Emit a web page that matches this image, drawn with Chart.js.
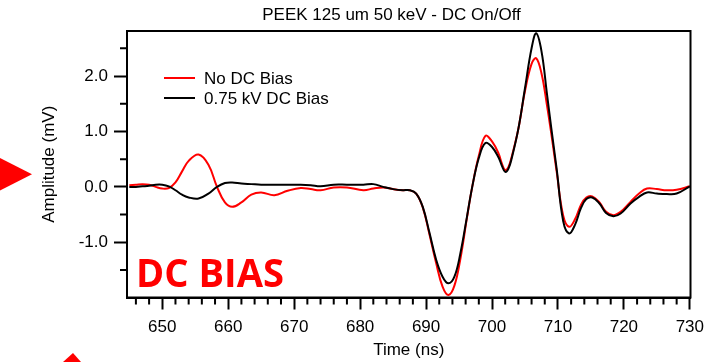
<!DOCTYPE html>
<html>
<head>
<meta charset="utf-8">
<script src="https://cdn.jsdelivr.net/npm/chart.js@4.4.1/dist/chart.umd.min.js"></script>
<style>
  html, body { margin: 0; padding: 0; background: #fff; }
  #wrap { position: relative; width: 725px; height: 362px; }
</style>
</head>
<body>
<div id="wrap"><canvas id="pulse"></canvas></div>
<script>
// time base (ns) and the two averaged waveforms (mV)
var times = [645, 646, 647, 648, 649, 650, 651, 652, 653, 654, 655.5, 657, 658.3, 659.5, 660.6, 662, 663.5, 665, 667, 669,
  671, 672.5, 674, 676, 678, 680.5, 682, 683.5, 685, 686.5, 687.5, 688.5, 689.5, 690.5, 691.5, 692.5, 693.4, 694.3, 695.2, 696.2,
  697, 698, 699, 700, 701, 701.5, 702, 702.5, 703, 704, 705, 706, 706.7, 707.5, 708.3, 709, 709.8, 710.8, 711.7, 712.6, 713.5, 714.3,
  715.2, 716.3, 717.3, 718.4, 719.5, 721, 722.3, 723.5, 725, 726.5, 728, 730];

var noBias = [0.03, 0.04, 0.05, 0.04, 0.0, -0.03, -0.02, 0.08, 0.28, 0.47, 0.585, 0.40, 0.0, -0.28, -0.36, -0.28, -0.14, -0.10, -0.15, -0.07,
  -0.02, -0.04, -0.06, -0.01, -0.01, -0.06, -0.03, -0.01, -0.04, -0.06, -0.06, -0.12, -0.37, -0.85, -1.36, -1.80, -1.95, -1.78, -1.30, -0.56,
  0.0, 0.56, 0.92, 0.82, 0.60, 0.42, 0.30, 0.36, 0.55, 1.05, 1.73, 2.22, 2.32, 2.05, 1.50, 0.95, 0.28, -0.52, -0.72, -0.58, -0.32, -0.19,
  -0.17, -0.28, -0.45, -0.51, -0.45, -0.27, -0.12, -0.03, -0.04, -0.06, -0.05, 0.01];

var dcBias = [0.0, 0.0, 0.01, 0.02, 0.04, 0.04, 0.01, -0.06, -0.14, -0.19, -0.21, -0.12, 0.0, 0.07, 0.08, 0.06, 0.05, 0.04, 0.04, 0.04,
  0.04, 0.03, 0.01, 0.04, 0.04, 0.04, 0.05, 0.0, -0.04, -0.06, -0.06, -0.12, -0.36, -0.82, -1.30, -1.62, -1.74, -1.62, -1.20, -0.54,
  0.0, 0.52, 0.79, 0.72, 0.53, 0.38, 0.27, 0.33, 0.52, 1.05, 1.78, 2.50, 2.77, 2.45, 1.71, 1.05, 0.33, -0.62, -0.84, -0.68, -0.38, -0.22,
  -0.19, -0.30, -0.47, -0.53, -0.48, -0.30, -0.18, -0.10, -0.12, -0.13, -0.12, 0.01];

var seriesNames = ['No DC Bias', '0.75 kV DC Bias'];
var xMajor = [650, 660, 670, 680, 690, 700, 710, 720, 730];
var yMajor = [-1, 0, 1, 2];
var yMinor = [-1.5, -0.5, 0.5, 1.5, 2.5];

var FONT = '"Liberation Sans", Arial, sans-serif';

function points(ys) {
  return times.map(function (t, i) { return { x: t, y: ys[i] }; });
}

// box, minor ticks, title, legend and slide labels
var extras = {
  id: 'extras',
  afterDraw: function (chart) {
    var ctx = chart.ctx, a = chart.chartArea;
    var xs = chart.scales.x, ys = chart.scales.y;
    ctx.save();
    ctx.strokeStyle = '#000';
    ctx.lineWidth = 2;
    ctx.strokeRect(a.left, a.top, a.right - a.left, a.bottom - a.top);

    ctx.beginPath();
    for (var t = 646; t <= 728; t += 2) {
      if (t % 10 === 0) continue;
      var px = xs.getPixelForValue(t);
      ctx.moveTo(px, a.bottom);
      ctx.lineTo(px, a.bottom + 7);
    }
    yMinor.forEach(function (v) {
      var py = ys.getPixelForValue(v);
      ctx.moveTo(a.left, py);
      ctx.lineTo(a.left - 7, py);
    });
    ctx.stroke();

    ctx.fillStyle = '#000';
    ctx.font = '17px ' + FONT;
    ctx.textAlign = 'center';
    ctx.textBaseline = 'middle';
    ctx.fillText('PEEK 125 um 50 keV - DC On/Off', 391.5, 15);

    // legend
    var colors = ['#ff0000', '#000000'];
    ctx.textAlign = 'left';
    seriesNames.forEach(function (name, i) {
      var y = 78 + i * 20;
      ctx.strokeStyle = colors[i];
      ctx.beginPath();
      ctx.moveTo(164, y);
      ctx.lineTo(195, y);
      ctx.stroke();
      ctx.fillStyle = '#000';
      ctx.fillText(name, 204, y + 1);
    });

    // red label inside the plot
    ctx.fillStyle = '#ff0000';
    ctx.font = 'bold 39px "Open Sans", ' + FONT;
    ctx.textBaseline = 'alphabetic';
    var label = 'DC BIAS';
    var w = ctx.measureText(label).width;
    ctx.save();
    ctx.translate(136, 287);
    ctx.scale(148 / w, 1);
    ctx.fillText(label, 0, 0);
    ctx.restore();

    // slide arrows at the left edge
    ctx.beginPath();
    ctx.moveTo(0, 158);
    ctx.lineTo(32, 174.3);
    ctx.lineTo(0, 190.5);
    ctx.closePath();
    ctx.fill();
    ctx.beginPath();
    ctx.moveTo(63, 362);
    ctx.lineTo(73, 353);
    ctx.lineTo(81, 362);
    ctx.closePath();
    ctx.fill();
    ctx.restore();
  }
};

new Chart(document.getElementById('pulse').getContext('2d'), {
  type: 'line',
  data: {
    datasets: [{
      label: seriesNames[0],
      data: points(noBias),
      borderColor: '#ff0000',
      borderWidth: 2,
      pointRadius: 0,
      tension: 0.4,
      order: 1
    }, {
      label: seriesNames[1],
      data: points(dcBias),
      borderColor: '#000000',
      borderWidth: 2,
      pointRadius: 0,
      tension: 0.4,
      order: 0
    }]
  },
  options: {
    responsive: true,
    maintainAspectRatio: false,
    animation: false,
    layout: { padding: { left: 0, right: 34.5, top: 31, bottom: 0 } },
    plugins: {
      legend: { display: false },
      tooltip: { enabled: false }
    },
    scales: {
      x: {
        type: 'linear',
        min: 644.65,
        max: 730.1,
        afterBuildTicks: function (s) { s.ticks = xMajor.map(function (v) { return { value: v }; }); },
        afterFit: function (s) { s.height = 64.5; s.paddingLeft = 0; s.paddingRight = 0; },
        grid: { drawOnChartArea: false, tickLength: 12, tickWidth: 2, tickColor: '#000' },
        border: { color: '#000', width: 2 },
        ticks: { color: '#000', font: { family: FONT, size: 17 }, padding: 8, maxRotation: 0 },
        title: { display: true, text: 'Time (ns)', color: '#000', font: { family: FONT, size: 17 }, padding: { top: 0, bottom: 1 } }
      },
      y: {
        min: -1.995,
        max: 2.812,
        afterBuildTicks: function (s) { s.ticks = yMajor.map(function (v) { return { value: v }; }); },
        afterFit: function (s) { s.width = 127; },
        grid: { drawOnChartArea: false, tickLength: 13, tickWidth: 2, tickColor: '#000' },
        border: { color: '#000', width: 2 },
        ticks: { color: '#000', font: { family: FONT, size: 17 }, padding: 6, callback: function (v) { return v.toFixed(1); } },
        title: { display: true, text: 'Amplitude (mV)', color: '#000', font: { family: FONT, size: 17 }, padding: { top: 39, bottom: 0 } }
      }
    }
  },
  plugins: [extras]
});
</script>
</body>
</html>
